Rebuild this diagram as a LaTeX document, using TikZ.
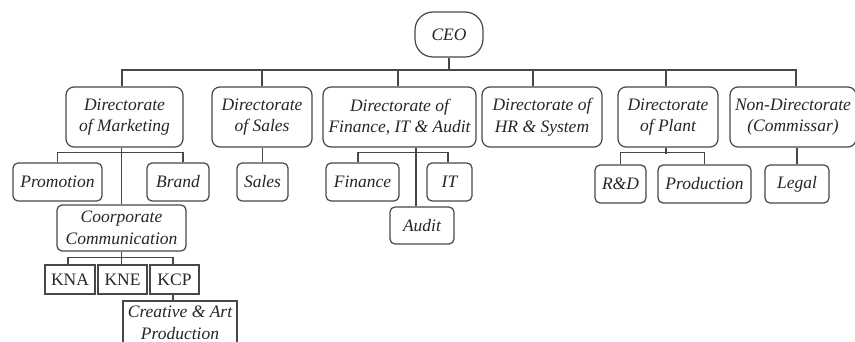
\documentclass[tikz,border=0pt]{standalone}
\usepackage{fontspec}
\setmainfont{Liberation Serif}
\begin{document}
\begin{tikzpicture}[x=1pt,y=-1pt,
  every node/.style={font=\fontsize{17.5}{21.5}\selectfont\itshape, text=black!85, inner sep=0pt, align=center},
  line/.style={draw=black!72, line width=1.2pt},
  dirbox/.style={line, rounded corners=8pt, minimum height=60pt},
  subbox/.style={line, rounded corners=5pt, minimum height=38pt},
  sqbox/.style={line, rounded corners=0pt, font=\fontsize{17.5}{21}\selectfont\upshape, minimum height=29pt},
  conn/.style={line}]
\useasboundingbox (0,0) rectangle (855,342);
\fill[white] (0,0) rectangle (855,342);
\begin{scope}
\clip (0,0) rectangle (855,342);
% CEO
\node[line, rounded corners=18pt, minimum width=68pt, minimum height=45pt] (ceo) at (449,34.5) {CEO};
% directorates
\node[dirbox, minimum width=117pt] (mkt) at (124.5,117) {Directorate\\of Marketing};
\node[dirbox, minimum width=100pt] (sal) at (262,117) {Directorate\\of Sales};
\node[dirbox, minimum width=153pt] (fin) at (399.5,117) {Directorate of\\Finance, IT \& Audit};
\node[dirbox, minimum width=120pt] (hr) at (542,117) {Directorate of\\HR \& System};
\node[dirbox, minimum width=100pt] (pla) at (668,117) {Directorate\\of Plant};
\node[dirbox, minimum width=126pt] (non) at (793,117) {Non-Directorate\\(Commissar)};
% second level
\node[subbox, minimum width=89pt] (pro) at (57.5,182) {Promotion};
\node[subbox, minimum width=62pt] (bra) at (178,182) {Brand};
\node[subbox, minimum width=51pt] (sls) at (262.5,182) {Sales};
\node[subbox, minimum width=73pt] (finc) at (362.5,182) {Finance};
\node[subbox, minimum width=45pt] (it) at (449.5,182) {IT};
\node[subbox, minimum width=64pt, minimum height=37pt] (aud) at (422,225.5) {Audit};
\node[subbox, minimum width=51pt] (rd) at (620.5,184) {R\&D};
\node[subbox, minimum width=93pt] (prd) at (704.5,184) {Production};
\node[subbox, minimum width=64pt] (leg) at (797,184) {Legal};
\node[subbox, minimum width=129pt, minimum height=46pt] (cc) at (121.5,228) {Coorporate\\Communication};
% third level
\node[sqbox, minimum width=50pt] (kna) at (70,279.5) {KNA};
\node[sqbox, minimum width=49pt] (kne) at (122.5,279.5) {KNE};
\node[sqbox, minimum width=49pt] (kcp) at (174.5,279.5) {KCP};
\node[line, minimum width=114pt, minimum height=44pt] (cap) at (180,323) {Creative \& Art\\Production};
% connectors
\coordinate (b0) at (0,70);
\draw[conn] (ceo.south) -- (ceo.south |- b0);
\draw[conn] ([xshift=-2.5pt]mkt.north) -- ([xshift=-2.5pt]mkt.north |- b0) -| ([xshift=3pt]non.north);
\draw[conn] (sal.north) -- (sal.north |- b0);
\draw[conn] ([xshift=-1.5pt]fin.north) -- ([xshift=-1.5pt]fin.north |- b0);
\draw[conn] ([xshift=-9pt]hr.north) -- ([xshift=-9pt]hr.north |- b0);
\draw[conn] ([xshift=-2pt]pla.north) -- ([xshift=-2pt]pla.north |- b0);
% marketing
\draw[conn] (pro.north) -- ++(0,-10) -| ([xshift=5pt]bra.north);
\draw[conn] (cc.north) -- (cc.north |- mkt.south);
% sales
\draw[conn] (sls.north) -- (sls.north |- sal.south);
% finance
\draw[conn] ([xshift=-4.5pt]finc.north) -- ++(0,-10) -| ([xshift=-1.5pt]it.north);
\draw[conn] ([xshift=-6pt]aud.north) -- ([xshift=-6pt]aud.north |- fin.south);
% plant
\draw[conn] (rd.north) -- ++(0,-12) -| (prd.north);
\draw[conn] ([xshift=-2pt]pla.south) -- ++(0,6);
% legal
\draw[conn] (leg.north) -- (leg.north |- non.south);
% corporate communication
\draw[conn] ([xshift=-2pt]kna.north) -- ++(0,-7) -| ([xshift=-1.5pt]kcp.north);
\draw[conn] ([xshift=-1pt]kne.north) -- ([xshift=-1pt]kne.north |- cc.south);
\draw[conn] ([xshift=-1.5pt]cap.north -| kcp.south) -- ([xshift=-1.5pt]kcp.south);
\end{scope}
\end{tikzpicture}
\end{document}
